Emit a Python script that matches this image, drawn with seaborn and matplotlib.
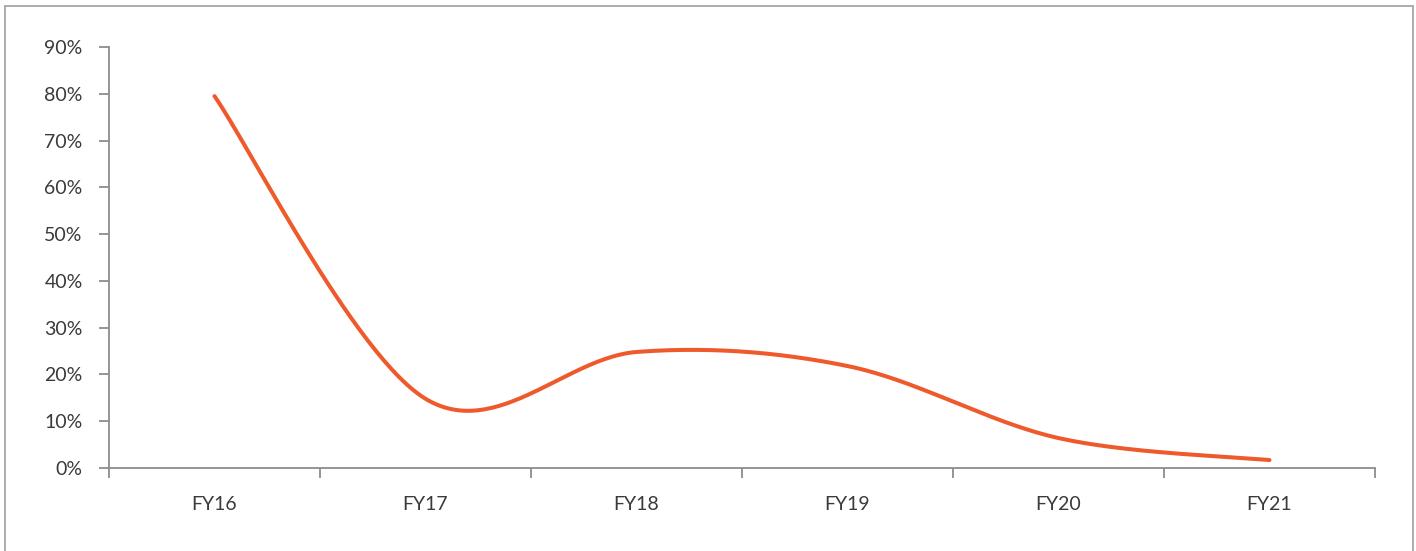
import numpy as np
import pandas as pd
import matplotlib
matplotlib.use("Agg")
import matplotlib.pyplot as plt
from matplotlib.patches import Rectangle
from matplotlib.ticker import FixedLocator, PercentFormatter
import seaborn as sns

# Fiscal years and the yearly growth rate (%)
years = ["FY16", "FY17", "FY18", "FY19", "FY20", "FY21"]
growth = [79.5, 14.8, 24.8, 21.8, 6.4, 1.7]

LINE_COLOR = "#EE5A2C"
AXIS_COLOR = "#8C8C8C"
TEXT_COLOR = "#3A3A3A"


def smooth_curve(y, samples=60):
    """Cubic Bezier smoothing through every point (spreadsheet-style smoothed line)."""
    y = np.asarray(y, dtype=float)
    x = np.arange(len(y), dtype=float)
    xs, ys = [], []
    n = len(y)
    for i in range(n - 1):
        p0 = max(i - 1, 0)
        p3 = min(i + 2, n - 1)
        c1x = x[i] + (x[i + 1] - x[p0]) / 6
        c1y = y[i] + (y[i + 1] - y[p0]) / 6
        c2x = x[i + 1] - (x[p3] - x[i]) / 6
        c2y = y[i + 1] - (y[p3] - y[i]) / 6
        t = np.linspace(0, 1, samples, endpoint=(i == n - 2))
        a, b, c, d = (1 - t) ** 3, 3 * (1 - t) ** 2 * t, 3 * (1 - t) * t ** 2, t ** 3
        xs.append(a * x[i] + b * c1x + c * c2x + d * x[i + 1])
        ys.append(a * y[i] + b * c1y + c * c2y + d * y[i + 1])
    return np.concatenate(xs), np.concatenate(ys)


sx, sy = smooth_curve(growth)
curve = pd.DataFrame({"pos": sx, "growth": sy})

sns.set_theme(style="white")
plt.rcParams["font.family"] = ["Lato", "DejaVu Sans"]

fig = plt.figure(figsize=(14.16, 5.51), dpi=100)
ax = fig.add_axes([109 / 1416, 1 - 468 / 551, (1375 - 109) / 1416, (468 - 47) / 551])

sns.lineplot(data=curve, x="pos", y="growth", sort=False, color=LINE_COLOR,
             linewidth=2.9, ax=ax, solid_capstyle="round")

ax.set_xlim(-0.5, len(years) - 0.5)
ax.set_ylim(0, 90)
ax.set_xlabel("")
ax.set_ylabel("")

ax.set_yticks(np.arange(0, 91, 10))
ax.yaxis.set_major_formatter(PercentFormatter(decimals=0))
ax.set_xticks(range(len(years)))
ax.set_xticklabels(years)
ax.xaxis.set_minor_locator(FixedLocator(np.arange(-0.5, len(years), 1.0)))

for side in ["top", "right"]:
    ax.spines[side].set_visible(False)
for side in ["left", "bottom"]:
    ax.spines[side].set_color(AXIS_COLOR)
    ax.spines[side].set_linewidth(1.3)

ax.tick_params(axis="y", which="major", left=True, length=7, width=1.3,
               color=AXIS_COLOR, labelcolor=TEXT_COLOR, labelsize=14, pad=12)
ax.tick_params(axis="x", which="major", bottom=False, length=0,
               labelcolor=TEXT_COLOR, labelsize=14, pad=20)
ax.tick_params(axis="x", which="minor", bottom=True, length=7, width=1.3,
               color=AXIS_COLOR)

# Outer frame of the chart area
fig.patches.append(Rectangle((4.5 / 1416, -0.01), (1413 - 4.5) / 1416, 1 - 6 / 551 + 0.01,
                             transform=fig.transFigure, fill=False,
                             edgecolor="#A6A6A6", linewidth=1.3))

fig.savefig("out.png", dpi=100)
